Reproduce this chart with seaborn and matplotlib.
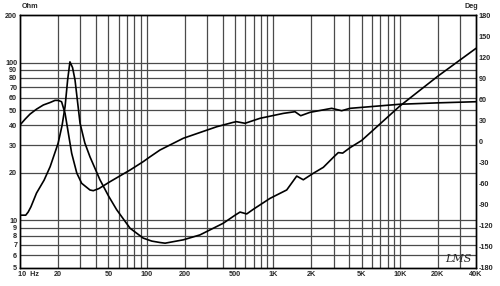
import matplotlib
matplotlib.use("Agg")
import matplotlib.pyplot as plt
import matplotlib.transforms as mtransforms
import seaborn as sns
import pandas as pd

# Impedance curve (Hz, Ohm)
imp_freq = [10, 11.1, 11.6, 12.2, 13.5, 15.5, 17.3, 20, 21.5, 22.7, 23.8, 24.8, 26, 27.2,
            29.8, 32.5, 35.7, 42.8, 50, 58, 74, 94, 110, 127.6, 140, 195, 264,
            403, 500, 547, 618, 700, 944, 1279, 1534, 1729, 2075, 2490, 3000,
            3268, 3540, 4045, 5000, 10000, 20000, 40000]
imp_ohm = [10.8, 10.8, 11.3, 12.2, 14.9, 18.0, 21.9, 30.8, 40, 52.6, 78, 101, 93, 77.6,
           41.3, 31, 25.3, 18.1, 14.3, 11.7, 8.93, 7.73, 7.4, 7.25, 7.18, 7.54, 8.1,
           9.6, 10.8, 11.3, 11.0, 11.8, 13.8, 15.6, 19.1, 18.1, 19.9, 21.7, 25.2,
           26.9, 26.7, 28.9, 32.1, 53, 82, 123]

# Phase curve (Hz, deg)
ph_freq = [10, 11, 12, 13.5, 15.3, 17.3, 18.9, 20, 21.3, 22.7, 24.1, 25.6, 28.1, 30.7,
           35.7, 37.9, 42, 51.4, 74, 94, 106, 127.6, 195, 358, 484, 513, 599, 787,
           1202, 1486, 1649, 1954, 2898, 3475, 4045, 10000, 20000, 40000]
ph_deg = [23.5, 32, 39, 46, 52, 55.5, 58.5, 58.5, 56.6, 40, 11.7, -16.8, -45, -59.5,
          -69, -70, -67, -57.2, -40.6, -28.7, -22, -12.1, 4.6, 21, 27.3, 28.2, 25.9,
          33, 40, 42.4, 36.7, 41.5, 47.2, 43.8, 47.2, 53, 55, 56.6]

x_ticks = [10, 20, 50, 100, 200, 500, 1000, 2000, 5000, 10000, 20000, 40000]
x_labels = ["10  Hz", "20", "50", "100", "200", "500", "1K", "2K", "5K", "10K", "20K", "40K"]
x_grid = [20, 30, 40, 50, 60, 70, 80, 90, 100, 200, 300, 400, 500, 600, 700, 800, 900,
          1000, 2000, 3000, 4000, 5000, 6000, 7000, 8000, 9000, 10000, 20000, 30000]
y_ticks = [5, 6, 7, 8, 9, 10, 20, 30, 40, 50, 60, 70, 80, 90, 100, 200]
y_labels = ["5", "6", "7", "8", "9", "10", "20", "30", "40", "50", "60", "70", "80", "90", "100", "200"]
deg_ticks = list(range(-180, 181, 30))

sns.set_style("white")
plt.rcParams["font.family"] = ["Liberation Sans", "DejaVu Sans"]

fig = plt.figure(figsize=(5.0, 2.86), dpi=100)
ax = fig.add_axes([20 / 500, 1 - 268 / 286, 456 / 500, 253 / 286])
ax2 = ax.twinx()

ax.set_xscale("log")
ax.set_yscale("log")
ax.set_xlim(10, 40000)
ax.set_ylim(5, 200)
ax2.set_ylim(-180, 180)

grid_col = "#4a4a4a"
for xv in x_grid:
    ax.axvline(xv, color=grid_col, lw=0.9, zorder=1)
for yv in y_ticks[:-1]:
    if yv != 5:
        ax.axhline(yv, color=grid_col, lw=0.9, zorder=1)

imp_df = pd.DataFrame({"f": imp_freq, "z": imp_ohm})
ph_df = pd.DataFrame({"f": ph_freq, "p": ph_deg})
sns.lineplot(data=imp_df, x="f", y="z", ax=ax, color="black", lw=1.2, zorder=3)
sns.lineplot(data=ph_df, x="f", y="p", ax=ax2, color="black", lw=1.2, zorder=3)

ax.set_xticks(x_ticks)
ax.set_xticklabels(x_labels)
ax.xaxis.set_minor_locator(matplotlib.ticker.NullLocator())
ax.set_yticks(y_ticks)
ax.set_yticklabels(y_labels)
ax.yaxis.set_minor_locator(matplotlib.ticker.NullLocator())
ax2.set_yticks(deg_ticks)
ax2.set_yticklabels([str(d) for d in deg_ticks])

for a in (ax, ax2):
    a.set_xlabel("")
    a.set_ylabel("")
    a.tick_params(length=0, labelsize=5.2, pad=2)
    for lab in a.get_xticklabels() + a.get_yticklabels():
        lab.set_fontweight("bold")
    for s in a.spines.values():
        s.set_color("black")
        s.set_linewidth(1.0)

first = ax.get_xticklabels()[0]
first.set_horizontalalignment("left")
first.set_transform(first.get_transform() + mtransforms.ScaledTranslation(-2 / 100, 0, fig.dpi_scale_trans))

ax.text(0.003, 1.02, "Ohm", transform=ax.transAxes, fontsize=5.2, fontweight="bold",
        ha="left", va="bottom")
ax.text(0.989, 1.02, "Deg", transform=ax.transAxes, fontsize=5.2, fontweight="bold",
        ha="center", va="bottom")
ax.text(0.962, 0.035, "LMS", transform=ax.transAxes, fontsize=8, style="italic",
        family="DejaVu Serif", fontweight="light", ha="center", va="center", zorder=4)

fig.savefig("out.png", dpi=100)
